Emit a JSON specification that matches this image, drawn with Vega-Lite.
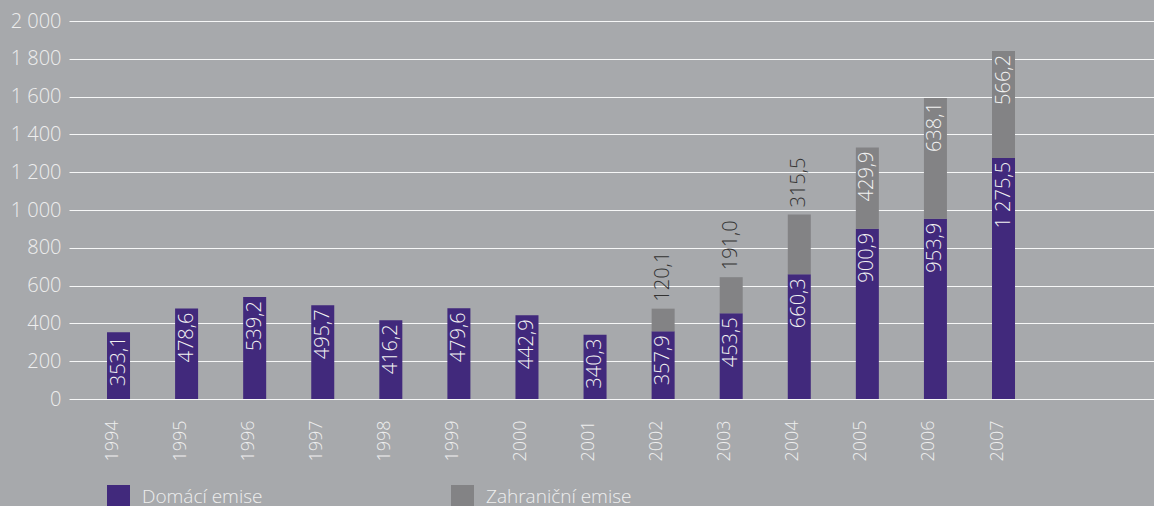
{
  "$schema": "https://vega.github.io/schema/vega-lite/v6.json",
  "autosize": {"type": "none"},
  "padding": {"left": 69, "top": 21, "right": 0, "bottom": 107},
  "width": 1085,
  "height": 378,
  "background": "#a7a9ac",
  "config": {
    "view": {"stroke": null},
    "locale": {"number": {"decimal": ",", "thousands": " ", "grouping": [3], "currency": ["", ""]}},
    "font": "Open Sans"
  },
  "data": {
    "values": [
      {"year": "1994", "type": "Domácí emise", "value": 353.1},
      {"year": "1995", "type": "Domácí emise", "value": 478.6},
      {"year": "1996", "type": "Domácí emise", "value": 539.2},
      {"year": "1997", "type": "Domácí emise", "value": 495.7},
      {"year": "1998", "type": "Domácí emise", "value": 416.2},
      {"year": "1999", "type": "Domácí emise", "value": 479.6},
      {"year": "2000", "type": "Domácí emise", "value": 442.9},
      {"year": "2001", "type": "Domácí emise", "value": 340.3},
      {"year": "2002", "type": "Domácí emise", "value": 357.9},
      {"year": "2003", "type": "Domácí emise", "value": 453.5},
      {"year": "2004", "type": "Domácí emise", "value": 660.3},
      {"year": "2005", "type": "Domácí emise", "value": 900.9},
      {"year": "2006", "type": "Domácí emise", "value": 953.9},
      {"year": "2007", "type": "Domácí emise", "value": 1275.5},
      {"year": "2002", "type": "Zahraniční emise", "value": 120.1},
      {"year": "2003", "type": "Zahraniční emise", "value": 191.0},
      {"year": "2004", "type": "Zahraniční emise", "value": 315.5},
      {"year": "2005", "type": "Zahraniční emise", "value": 429.9},
      {"year": "2006", "type": "Zahraniční emise", "value": 638.1},
      {"year": "2007", "type": "Zahraniční emise", "value": 566.2}
    ]
  },
  "transform": [
    {"stack": "value", "groupby": ["year"], "sort": [{"field": "type", "order": "ascending"}], "as": ["v0", "v1"]}
  ],
  "encoding": {
    "x": {
      "field": "year", "type": "ordinal",
      "scale": {
        "domain": ["1994", "1995", "1996", "1997", "1998", "1999", "2000", "2001", "2002", "2003", "2004", "2005", "2006", "2007", "2008"],
        "paddingInner": 0.662, "paddingOuter": 0.8, "align": 0.349
      },
      "axis": {
        "title": null, "labelAngle": 270, "labelAlign": "right", "labelBaseline": "middle",
        "labelExpr": "datum.value == '2008' ? '' : datum.label",
        "labelFontSize": 18, "labelColor": "#eeeeee", "labelPadding": 21, "labelOffset": -6,
        "ticks": false, "domain": false, "grid": false, "labelFontWeight": 300, "labelOverlap": false
      }
    },
    "y": {
      "field": "v1", "type": "quantitative",
      "scale": {"domain": [0, 2000], "nice": false},
      "axis": {
        "title": null, "values": [0, 200, 400, 600, 800, 1000, 1200, 1400, 1600, 1800, 2000],
        "format": ",d", "labelFontSize": 20, "labelColor": "#eeeeee", "labelPadding": 8,
        "ticks": false, "domain": false, "gridColor": "#ffffff", "gridWidth": 1, "gridOpacity": 0.9,
        "labelFontWeight": 300, "labelOverlap": false
      }
    }
  },
  "layer": [
    {
      "mark": {"type": "bar"},
      "encoding": {
        "y2": {"field": "v0"},
        "color": {
          "field": "type", "type": "nominal",
          "scale": {"domain": ["Domácí emise", "Zahraniční emise"], "range": ["#41297c", "#838385"]},
          "legend": {
            "title": null, "orient": "none", "legendX": 38, "legendY": 464, "direction": "horizontal",
            "symbolType": "square", "symbolSize": 529, "symbolStrokeWidth": 0, "symbolOpacity": 1,
            "labelFontSize": 19, "labelColor": "#eeeeee", "labelOffset": 12, "columnPadding": 188,
            "padding": 0, "labelFontWeight": 300
          }
        }
      }
    },
    {
      "transform": [{"filter": "datum.type == 'Domácí emise' || datum.value >= 400"}],
      "mark": {"type": "text", "angle": 270, "align": "right", "baseline": "middle", "dx": -4, "fontSize": 20, "fill": "#f2f2f2", "fontWeight": 300},
      "encoding": {
        "text": {"field": "value", "type": "quantitative", "format": ",.1f"}
      }
    },
    {
      "transform": [{"filter": "datum.type == 'Zahraniční emise' && datum.value < 400"}],
      "mark": {"type": "text", "angle": 270, "align": "left", "baseline": "middle", "dx": 7, "fontSize": 20, "fill": "#333333", "fontWeight": 300},
      "encoding": {
        "text": {"field": "value", "type": "quantitative", "format": ",.1f"}
      }
    }
  ]
}
